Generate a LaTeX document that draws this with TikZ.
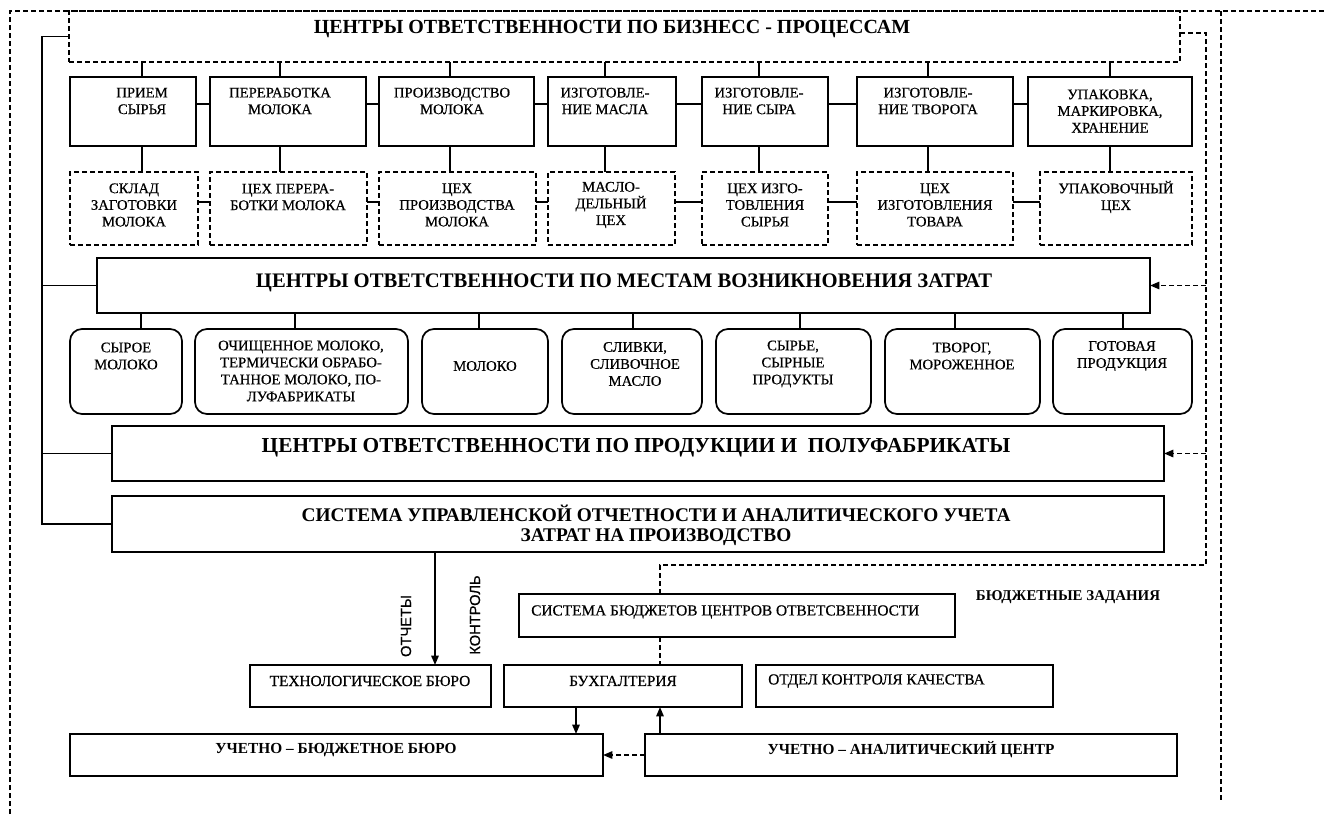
\documentclass[tikz,border=0pt]{standalone}
\usepackage{fontspec}
\setmainfont{Liberation Serif}
\newfontfamily\sansf[FakeBold=0.6]{Liberation Sans}
\newfontfamily\medf[FakeBold=0.5]{Liberation Serif}
\usetikzlibrary{arrows.meta,calc}
\newcommand\bx[6]{\node[#6, minimum width={(#4-#2)*0.75pt}, minimum height={(#5-#3)*0.75pt}] (#1) at ({(#2+#4)/2},{(#3+#5)/2}) {};}
\begin{document}
\begin{tikzpicture}[x=0.75pt,y=-0.75pt,
  ln/.style={line width=1.3pt},
  dsh/.style={line width=1.3pt, dash pattern=on 3.5pt off 2.5pt},
  box/.style={draw, line width=1.3pt, inner sep=0pt, outer sep=0pt},
  dbox/.style={box, dash pattern=on 3.5pt off 2.5pt},
  tbox/.style={box, line width=1.8pt},
  rbox/.style={box, rounded corners=9pt},
  lbl/.style={align=center, font=\fontsize{11}{12.5}\medf, inner sep=0pt},
  rlbl/.style={align=center, font=\fontsize{11}{12.75}\medf, inner sep=0pt},
  slbl/.style={align=center, font=\fontsize{11.5}{13}\medf, inner sep=0pt},
  blbl/.style={align=center, font=\fontsize{11.5}{13}\bfseries\selectfont, inner sep=0pt},
  ttl/.style={align=center, font=\fontsize{15.5}{17}\bfseries\selectfont, inner sep=0pt},
  vlbl/.style={rotate=90, font=\fontsize{11}{12}\sansf, inner sep=0pt},
  tip/.style={-{Triangle[length=7pt,width=5.5pt]}},
]
\useasboundingbox (0,0) rectangle (1324,814);

% outer dashed frame
\coordinate (o1) at (10,11);
\coordinate (o2) at (1324,11);
\coordinate (o3) at (10,814);
\coordinate (o4) at (1221,11);
\coordinate (o5) at (1221,800);
\draw[dsh] (o3) -- (o1) -- (o2);
\draw[dsh] (o4) -- (o5);

% business processes box
\bx{bp}{69}{11}{1180}{62}{dbox}
\node[ttl, font=\fontsize{15}{17}\bfseries\selectfont] at (612,29) {ЦЕНТРЫ ОТВЕТСТВЕННОСТИ ПО БИЗНЕСС - ПРОЦЕССАМ};

% row 1
\bx{p1}{70}{77}{196}{146}{box}
\bx{p2}{210}{77}{366}{146}{box}
\bx{p3}{379}{77}{534}{146}{box}
\bx{p4}{548}{77}{676}{146}{box}
\bx{p5}{702}{77}{828}{146}{box}
\bx{p6}{857}{77}{1013}{146}{box}
\bx{p7}{1028}{77}{1192}{146}{box}
\node[lbl] at (142,101) {ПРИЕМ\\СЫРЬЯ};
\node[lbl] at (280,101) {ПЕРЕРАБОТКА\\МОЛОКА};
\node[lbl] at (452,101) {ПРОИЗВОДСТВО\\МОЛОКА};
\node[lbl] at (605,101) {ИЗГОТОВЛЕ-\\НИЕ МАСЛА};
\node[lbl] at (759,101) {ИЗГОТОВЛЕ-\\НИЕ СЫРА};
\node[lbl] at (928,101) {ИЗГОТОВЛЕ-\\НИЕ ТВОРОГА};
\node[lbl] at (1110,111) {УПАКОВКА,\\МАРКИРОВКА,\\ХРАНЕНИЕ};

% row 2
\bx{d1}{70}{172}{198}{245}{dbox}
\bx{d2}{210}{172}{367}{245}{dbox}
\bx{d3}{379}{172}{536}{245}{dbox}
\bx{d4}{548}{172}{675}{245}{dbox}
\bx{d5}{702}{172}{828}{245}{dbox}
\bx{d6}{857}{172}{1013}{245}{dbox}
\bx{d7}{1040}{172}{1192}{245}{dbox}
\node[lbl] at (134,205) {СКЛАД\\ЗАГОТОВКИ\\МОЛОКА};
\node[lbl] at (288,197) {ЦЕХ ПЕРЕРА-\\БОТКИ МОЛОКА};
\node[lbl] at (457,205) {ЦЕХ\\ПРОИЗВОДСТВА\\МОЛОКА};
\node[lbl] at (611,205) {МАСЛО-\\ДЕЛЬНЫЙ\\ЦЕХ};
\node[lbl] at (765,205) {ЦЕХ ИЗГО-\\ТОВЛЕНИЯ\\СЫРЬЯ};
\node[lbl] at (935,205) {ЦЕХ\\ИЗГОТОВЛЕНИЯ\\ТОВАРА};
\node[lbl] at (1116,197) {УПАКОВОЧНЫЙ\\ЦЕХ};

% vertical connectors rows
\foreach \n/\x in {1/142,2/280,3/450,4/605,5/759,6/928,7/1110}{
  \coordinate (cx\n) at (\x,0);
  \draw[ln] (bp.south -| cx\n) -- (p\n.north -| cx\n);
  \draw[ln] (p\n.south -| cx\n) -- (d\n.north -| cx\n);
}
\coordinate (h1) at (0,104);
\coordinate (h2) at (0,202);
\foreach \a/\b in {1/2,2/3,3/4,4/5,5/6,6/7}{
  \draw[ln] (p\a.east |- h1) -- (p\b.west |- h1);
  \draw[ln] (d\a.east |- h2) -- (d\b.west |- h2);
}

% cost places box
\bx{mz}{97}{258}{1150}{313}{tbox}
\node[ttl] at (624,283) {ЦЕНТРЫ ОТВЕТСТВЕННОСТИ ПО МЕСТАМ ВОЗНИКНОВЕНИЯ ЗАТРАТ};

% row 3
\bx{r1}{70}{329}{182}{414}{rbox}
\bx{r2}{195}{329}{408}{414}{rbox}
\bx{r3}{422}{329}{548}{414}{rbox}
\bx{r4}{562}{329}{702}{414}{rbox}
\bx{r5}{716}{329}{871}{414}{rbox}
\bx{r6}{885}{329}{1040}{414}{rbox}
\bx{r7}{1053}{329}{1192}{414}{rbox}
\node[rlbl] at (126,356) {СЫРОЕ\\МОЛОКО};
\node[rlbl] at (301,371) {ОЧИЩЕННОЕ МОЛОКО,\\ТЕРМИЧЕСКИ ОБРАБО-\\ТАННОЕ МОЛОКО, ПО-\\ЛУФАБРИКАТЫ};
\node[rlbl] at (485,366) {МОЛОКО};
\node[rlbl] at (635,364) {СЛИВКИ,\\СЛИВОЧНОЕ\\МАСЛО};
\node[rlbl] at (793,364) {СЫРЬЕ,\\СЫРНЫЕ\\ПРОДУКТЫ};
\node[rlbl] at (962,356) {ТВОРОГ,\\МОРОЖЕННОЕ};
\node[rlbl] at (1122,356) {ГОТОВАЯ\\ПРОДУКЦИЯ};
\foreach \n/\x in {1/141,2/295,3/479,4/633,5/800,6/955,7/1123}{
  \coordinate (rx\n) at (\x,0);
  \draw[ln] (mz.south -| rx\n) -- (r\n.north -| rx\n);
}

% products box
\bx{pr}{112}{426}{1164}{481}{box}
\node[ttl, font=\fontsize{16}{17}\bfseries\selectfont] at (636,448) {ЦЕНТРЫ ОТВЕТСТВЕННОСТИ ПО ПРОДУКЦИИ И\ \ ПОЛУФАБРИКАТЫ};

% management reporting box
\bx{sy}{112}{496}{1164}{552}{box}
\node[align=center, font=\fontsize{14.5}{15}\bfseries\selectfont, inner sep=0pt] at (656,525) {СИСТЕМА УПРАВЛЕНСКОЙ ОТЧЕТНОСТИ И АНАЛИТИЧЕСКОГО УЧЕТА\\ЗАТРАТ НА ПРОИЗВОДСТВО};

% left solid bracket
\coordinate (L) at (42,0);
\draw[ln] (bp.west) -- (bp.west -| L) -- (sy.west -| L) -- (sy.west);
\draw[ln] (mz.west -| L) -- (mz.west);
\draw[ln] (pr.west -| L) -- (pr.west);

% bottom boxes
\bx{sb}{519}{594}{955}{637}{box}
\node[slbl, anchor=west] at (531,612) {СИСТЕМА БЮДЖЕТОВ ЦЕНТРОВ ОТВЕТСВЕННОСТИ};
\node[blbl, font=\fontsize{11.2}{13}\bfseries\selectfont] at (1068,597) {БЮДЖЕТНЫЕ ЗАДАНИЯ};
\bx{tb}{250}{665}{491}{707}{box}
\node[slbl] at (370,681) {ТЕХНОЛОГИЧЕСКОЕ БЮРО};
\bx{bu}{504}{665}{742}{707}{box}
\node[slbl] at (623,681) {БУХГАЛТЕРИЯ};
\bx{ok}{756}{665}{1053}{707}{box}
\node[slbl, anchor=west] at (768,681) {ОТДЕЛ КОНТРОЛЯ КАЧЕСТВА};
\bx{ub}{70}{734}{603}{776}{box}
\node[blbl] at (336,750) {УЧЕТНО – БЮДЖЕТНОЕ БЮРО};
\bx{ua}{645}{734}{1177}{776}{box}
\node[blbl] at (911,750) {УЧЕТНО – АНАЛИТИЧЕСКИЙ ЦЕНТР};

% right inner dashed feedback line
\coordinate (R) at (1206,0);
\coordinate (rt) at (0,33);
\coordinate (rj) at (1206,565);
\coordinate (bj) at (660,565);
\coordinate (X) at (660,0);
\draw[dsh] (bp.east |- rt) -- (R |- rt) -- (rj) -- (bj) -- (sb.north -| X);
\draw[dsh, tip] (mz.east -| R) -- (mz.east);
\draw[dsh, tip] (pr.east -| R) -- (pr.east);

% bottom connectors
\coordinate (a1) at (435,0);
\draw[ln, tip] (sy.south -| a1) -- (tb.north -| a1);
\node[vlbl] at (406,626) {ОТЧЕТЫ};
\node[vlbl] at (475,615) {КОНТРОЛЬ};
\draw[dsh] (sb.south -| X) -- (bu.north -| X);
\coordinate (a2) at (576,0);
\draw[ln, tip] (bu.south -| a2) -- (ub.north -| a2);
\draw[ln, tip] (ua.north -| X) -- (bu.south -| X);
\draw[dsh, tip] (ua.west) -- (ub.east);
\end{tikzpicture}
\end{document}
